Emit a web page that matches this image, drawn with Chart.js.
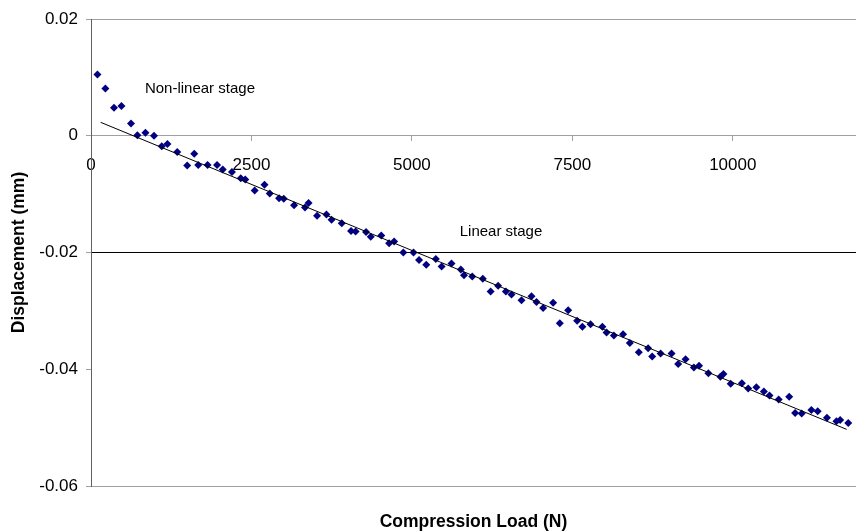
<!DOCTYPE html>
<html>
<head>
<meta charset="utf-8">
<title>Displacement vs Compression Load</title>
<script src="https://cdn.jsdelivr.net/npm/chart.js@4"></script>
<style>
  body { margin: 0; background: #fff; }
  canvas { display: block; }
</style>
</head>
<body>
<canvas id="chart" width="856" height="531"></canvas>
<script>
/* Data start */

const loadN = [100, 224, 358, 474, 623, 723, 848, 982, 1102, 1191,
  1344, 1499, 1609, 1671, 1816, 1964, 2053, 2196, 2333, 2403,
  2551, 2703, 2785, 2930, 3003, 3164, 3334, 3390, 3522, 3669,
  3748, 3907, 4052, 4123, 4286, 4359, 4523, 4645, 4723, 4866,
  5025, 5112, 5224, 5373, 5463, 5617, 5762, 5812, 5941, 6105,
  6227, 6344, 6464, 6552, 6708, 6864, 6942, 7045, 7201, 7305,
  7435, 7575, 7656, 7784, 7968, 8033, 8147, 8290, 8396, 8536,
  8681, 8744, 8876, 9046, 9149, 9264, 9394, 9475, 9620, 9807,
  9854, 9967, 10142, 10240, 10368, 10485, 10572, 10715, 10879, 10971,
  11074, 11225, 11323, 11467, 11615, 11674, 11799]

const displacement = [0.0105, 0.0081, 0.0048, 0.0051, 0.0021, 0.0001, 0.0005, 0.0000, -0.0018, -0.0014,
  -0.0028, -0.0051, -0.0031, -0.0050, -0.0050, -0.0050, -0.0058, -0.0062, -0.0073, -0.0075,
  -0.0094, -0.0084, -0.0099, -0.0107, -0.0108, -0.0119, -0.0123, -0.0115, -0.0137, -0.0135,
  -0.0144, -0.0150, -0.0163, -0.0164, -0.0165, -0.0173, -0.0171, -0.0184, -0.0181, -0.0200,
  -0.0200, -0.0213, -0.0221, -0.0211, -0.0224, -0.0219, -0.0229, -0.0239, -0.0241, -0.0245,
  -0.0267, -0.0257, -0.0267, -0.0272, -0.0282, -0.0275, -0.0285, -0.0295, -0.0286, -0.0321,
  -0.0299, -0.0317, -0.0327, -0.0323, -0.0327, -0.0337, -0.0342, -0.0340, -0.0355, -0.0371,
  -0.0364, -0.0378, -0.0373, -0.0373, -0.0391, -0.0383, -0.0397, -0.0394, -0.0407, -0.0413,
  -0.0408, -0.0425, -0.0424, -0.0433, -0.0431, -0.0438, -0.0445, -0.0452, -0.0447, -0.0475,
  -0.0476, -0.0470, -0.0472, -0.0483, -0.0489, -0.0487, -0.0492]

/* linear trend line, two ends */
const trendX = [150, 11775]
const trendY = [0.0023, -0.0503]

const yTicks = [0.02, 0, -0.02, -0.04, -0.06]
const xTicks = [0, 2500, 5000, 7500, 10000]

const notes = ['Non-linear stage', 'Linear stage']
const noteX = [840, 5745]
const noteY = [0.0081, -0.0165]

/* Data end */

const points = loadN.map((x, i) => ({ x: x, y: displacement[i] }))
const trend = trendX.map((x, i) => ({ x: x, y: trendY[i] }))

const fontName = '"Liberation Sans", Arial, sans-serif'

/* Text notes on the plot */
const notesPlugin = {
  id: 'notes',
  afterDatasetsDraw(chart) {
    const ctx = chart.ctx
    const xs = chart.scales.x
    const ys = chart.scales.y
    ctx.save()
    ctx.font = '15px ' + fontName
    ctx.fillStyle = '#000'
    ctx.textAlign = 'left'
    ctx.textBaseline = 'middle'
    notes.forEach((t, i) => {
      ctx.fillText(t, xs.getPixelForValue(noteX[i]), ys.getPixelForValue(noteY[i]))
    })
    ctx.restore()
  }
}

function gridColor(ctx) {
  if (!ctx.tick) return 'transparent'
  const v = Math.round(ctx.tick.value * 100)
  if (v === 2 || v === -6) return '#a0a0a0'
  if (v === -2) return '#000'
  return 'transparent'
}

new Chart(document.getElementById('chart'), {
  type: 'scatter',
  data: {
    datasets: [{
      type: 'line',
      data: trend,
      borderColor: '#000',
      borderWidth: 1,
      pointRadius: 0,
      fill: false
    }, {
      data: points,
      pointStyle: 'rectRot',
      pointRadius: 4,
      borderWidth: 0,
      backgroundColor: '#000080',
      borderColor: '#000080'
    }]
  },
  options: {
    responsive: false,
    animation: false,
    events: [],
    layout: { autoPadding: false, padding: { top: 19, left: 0, right: 0, bottom: 0 } },
    plugins: {
      legend: { display: false },
      tooltip: { enabled: false }
    },
    scales: {
      x: {
        type: 'linear',
        position: { y: 0 },
        min: 0,
        max: 11920,
        afterBuildTicks: s => { s.ticks = xTicks.map(v => ({ value: v })) },
        ticks: {
          color: '#000',
          padding: 14,
          font: { family: fontName, size: 17 },
          callback: v => String(v)
        },
        grid: { drawOnChartArea: false, tickLength: 5, tickColor: '#a0a0a0' },
        border: { color: '#a0a0a0' }
      },
      x2: {
        type: 'linear',
        position: 'bottom',
        min: 0,
        max: 11920,
        afterFit: s => { s.height = 45 },
        ticks: { display: false },
        grid: { display: false, drawTicks: false },
        border: { display: false },
        title: {
          display: true,
          text: 'Compression Load (N)',
          color: '#000',
          padding: { top: 0, bottom: -2 },
          font: { family: fontName, size: 17.5, weight: 'bold' }
        }
      },
      y: {
        type: 'linear',
        min: -0.06,
        max: 0.02,
        afterFit: s => { s.width = 91 },
        afterBuildTicks: s => { s.ticks = yTicks.map(v => ({ value: v })) },
        ticks: {
          color: '#000',
          padding: 8,
          font: { family: fontName, size: 17 },
          callback: v => Math.abs(v) < 1e-9 ? '0' : v.toFixed(2)
        },
        grid: { color: gridColor, tickLength: 5, tickColor: '#a0a0a0' },
        border: { color: '#606060' },
        title: {
          display: true,
          text: 'Displacement (mm)',
          color: '#000',
          padding: { top: 9, bottom: 0 },
          font: { family: fontName, size: 17.5, weight: 'bold' }
        }
      }
    }
  },
  plugins: [notesPlugin]
})
</script>
</body>
</html>
